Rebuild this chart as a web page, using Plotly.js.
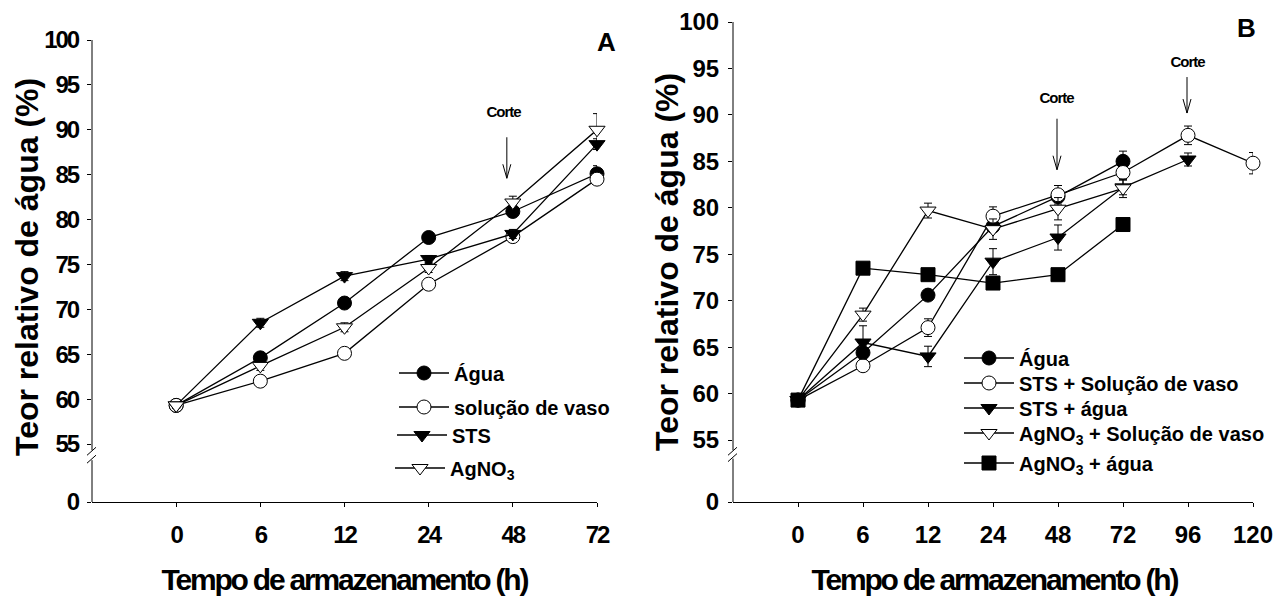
<!DOCTYPE html>
<html>
<head>
<meta charset="utf-8">
<script src="https://cdn.plot.ly/plotly-3.0.1.min.js"></script>
<style>
html,body{margin:0;padding:0;background:#fff;}
#chart{width:1278px;height:598px;}
/* condensed, tightly tracked look of the original */
#chart .xtick text, #chart .ytick text { letter-spacing: -2px; }
#chart .annotation-text[data-unformatted="Corte"] { letter-spacing: -1px; }
#chart .annotation-text[data-unformatted^="Tempo"] { letter-spacing: -2.2px; }
</style>
</head>
<body>
<div id="chart"></div>
<script>
// ---------- data ----------
const hoursA = [0, 6, 12, 24, 48, 72];
const hoursB = [0, 6, 12, 24, 48, 72, 96, 120];
const yTickValsReal = [55, 60, 65, 70, 75, 80, 85, 90, 95, 100];

// Panel A
const aguaA     = [59.3, 64.6, 70.7, 78.0, 80.9, 85.1];
const aguaA_err = [0.3, 0.5, 0.5, 0.4, 0.5, 0.9];
const solA      = [59.3, 62.0, 65.1, 72.8, 78.1, 84.5];
const solA_err  = [0.3, 0.5, 0.5, 0.5, 0.5, 0.5];
const stsA      = [59.3, 68.5, 73.7, 75.6, 78.4, 88.4];
const stsA_err  = [0.3, 0.5, 0.5, 0.4, 0.5, 0.6];
const agA       = [59.3, 63.7, 68.0, 74.6, 81.9, 90.0];
const agA_err   = [0.3, 0.5, 0.5, 0.5, 0.7, 1.8];

// Panel B
const aguaB       = [59.3, 64.4, 70.6, 78.0, 81.2, 85.0];
const aguaB_err   = [0.3, 0.5, 0.5, 0.5, 0.5, 1.1];
const stsSolB     = [59.3, 63.0, 67.1, 79.1, 81.4, 83.8, 87.8, 84.8];
const stsSolB_err = [0.3, 0.5, 0.95, 1.0, 1.0, 0.8, 1.0, 1.15];
const stsAguaB    = [59.3, 65.5, 64.0, 74.2, 76.8, 82.2, 85.2];
const stsAguaB_err= [0.3, 1.8, 1.1, 1.4, 1.35, 0.8, 0.7];
const agSolB      = [59.3, 68.5, 79.7, 77.7, 79.9, 82.1];
const agSolB_err  = [0.3, 0.7, 0.8, 1.1, 1.2, 1.0];
const agAguaB     = [59.3, 73.5, 72.8, 71.9, 72.8, 78.2];
const agAguaB_err = [0.3, 0.4, 0.4, 0.4, 0.4, 0.4];

const namesA = ['Água', 'solução de vaso', 'STS', 'AgNO<sub>3</sub>'];
const namesB = ['Água', 'STS + Solução de vaso', 'STS + água', 'AgNO<sub>3</sub> + Solução de vaso', 'AgNO<sub>3</sub> + água'];

// ---------- layout constants ----------
const W = 1278, H = 598;
const FONT = 'Arial, "Liberation Sans", sans-serif';
const zeroA = 48.54, zeroB = 48.33;   // position of the broken-axis "0" tick

function tr(name, hours, ys, errs, sym, fill, xa, ya, leg) {
  return {
    type: 'scatter', mode: 'lines+markers', name: name,
    x: hours.slice(0, ys.length).map(String), y: ys,
    xaxis: xa, yaxis: ya, legend: leg,
    line: {color: 'black', width: 1.3},
    marker: {symbol: sym, size: 14, color: fill, line: {color: 'black', width: 1}},
    error_y: {type: 'data', array: errs, symmetric: true, color: 'black', thickness: 1, width: 4},
    cliponaxis: false, hoverinfo: 'skip'
  };
}

const data = [
  tr(namesA[0], hoursA, aguaA, aguaA_err, 'circle', 'black', 'x', 'y', 'legend'),
  tr(namesA[1], hoursA, solA, solA_err, 'circle', 'white', 'x', 'y', 'legend2'),
  tr(namesA[2], hoursA, stsA, stsA_err, 'triangle-down', 'black', 'x', 'y', 'legend3'),
  tr(namesA[3], hoursA, agA, agA_err, 'triangle-down', 'white', 'x', 'y', 'legend4'),
  tr(namesB[0], hoursB, aguaB, aguaB_err, 'circle', 'black', 'x2', 'y2', 'legend5'),
  tr(namesB[1], hoursB, stsSolB, stsSolB_err, 'circle', 'white', 'x2', 'y2', 'legend6'),
  tr(namesB[2], hoursB, stsAguaB, stsAguaB_err, 'triangle-down', 'black', 'x2', 'y2', 'legend7'),
  tr(namesB[3], hoursB, agSolB, agSolB_err, 'triangle-down', 'white', 'x2', 'y2', 'legend8'),
  tr(namesB[4], hoursB, agAguaB, agAguaB_err, 'square', 'black', 'x2', 'y2', 'legend9')
];

const tickFont = {family: FONT, size: 24, color: 'black', weight: 'bold'};

function xAxis(cats, dom, anchor) {
  return {
    domain: dom, anchor: anchor, type: 'category',
    categoryorder: 'array', categoryarray: cats.map(String),
    range: [-1, cats.length - 1],
    showline: true, linecolor: 'black', linewidth: 1,
    ticks: 'outside', ticklen: 4, tickcolor: 'black', tickwidth: 1,
    tickfont: tickFont, ticklabelstandoff: 7,
    showgrid: false, zeroline: false, fixedrange: true, automargin: false
  };
}
function yAxis(zero, dom, anchor) {
  return {
    domain: dom, anchor: anchor, range: [zero, 100],
    tickvals: [zero].concat(yTickValsReal),
    ticktext: ['0'].concat(yTickValsReal.map(String)),
    showline: false,
    ticks: 'outside', ticklen: 4, tickcolor: 'black', tickwidth: 1,
    tickfont: tickFont, ticklabelstandoff: 4,
    showgrid: false, zeroline: false, fixedrange: true, automargin: false
  };
}

// broken y-axis line + break marks
function axisBreak(xd, yr, zero, breakTop, breakBot) {
  const ln = {color: 'black', width: 1};
  return [
    {type: 'line', xref: xd, yref: yr, x0: 0, x1: 0, y0: breakTop, y1: 100, line: ln},
    {type: 'line', xref: xd, yref: yr, x0: 0, x1: 0, y0: zero, y1: breakBot, line: ln},
    {type: 'line', xref: xd, yref: yr, xsizemode: 'pixel', xanchor: 0, x0: -5, x1: 4,
     ysizemode: 'pixel', yanchor: breakTop, y0: -5, y1: 3, line: ln},
    {type: 'line', xref: xd, yref: yr, xsizemode: 'pixel', xanchor: 0, x0: -5, x1: 4,
     ysizemode: 'pixel', yanchor: breakBot, y0: -3, y1: 5, line: ln}
  ];
}
// thin open-headed arrows ("Corte")
function arrow(xr, yr, xIdx, dx, tipY, len) {
  return {type: 'path', xref: xr, yref: yr, xsizemode: 'pixel', ysizemode: 'pixel',
    xanchor: xIdx, yanchor: tipY,
    path: `M${dx},0 L${dx},${len} M${dx - 4},14 L${dx},0 L${dx + 4},14`,
    line: {color: 'black', width: 1}};
}

const shapes = []
  .concat(axisBreak('x domain', 'y', zeroA, 54.3, 53.2))
  .concat(axisBreak('x2 domain', 'y2', zeroB, 53.9, 53.0))
  .concat([
    arrow('x', 'y', hoursA.indexOf(48), -6, 84.6, 41),
    arrow('x2', 'y2', hoursB.indexOf(48), -1, 84.1, 51),
    arrow('x2', 'y2', hoursB.indexOf(96), -1, 90.2, 36)
  ]);

const bold = (s) => ({family: FONT, size: s, color: 'black', weight: 'bold'});
function pAnn(text, px, py, font, angle) {
  return {text: text, xref: 'paper', yref: 'paper', x: px / W, y: 1 - py / H,
          xanchor: 'center', yanchor: 'middle', showarrow: false, font: font, textangle: angle || 0};
}
const annotations = [
  {text: 'Corte', xref: 'x', yref: 'y', x: hoursA.indexOf(48), xshift: -9, y: 92.0, showarrow: false, font: bold(15)},
  {text: 'Corte', xref: 'x2', yref: 'y2', x: hoursB.indexOf(48), xshift: -2, y: 91.9, showarrow: false, font: bold(15)},
  {text: 'Corte', xref: 'x2', yref: 'y2', x: hoursB.indexOf(96), xshift: -1, y: 95.7, showarrow: false, font: bold(15)},
  pAnn('A', 606, 42, bold(26)),
  pAnn('B', 1246, 28, bold(26)),
  pAnn('Teor relativo de água (%)', 27, 267, bold(32), -90),
  pAnn('Teor relativo de água (%)', 667, 262, bold(32), -90),
  pAnn('Tempo de armazenamento (h)', 344, 579, bold(30)),
  pAnn('Tempo de armazenamento (h)', 994, 579, bold(30))
];

function leg(markerX, rowY) {
  return {x: (markerX - 29) / W, y: 1 - (rowY - 19.5) / H, xanchor: 'left', yanchor: 'top',
          font: bold(20), bgcolor: 'rgba(0,0,0,0)', borderwidth: 0, itemwidth: 50};
}

const layout = {
  width: W, height: H,
  margin: {l: 0, r: 0, t: 0, b: 0, autoexpand: false},
  paper_bgcolor: 'white', plot_bgcolor: 'white',
  font: {family: FONT, color: 'black'},
  showlegend: true,
  xaxis: xAxis(hoursA, [92 / W, 597 / W], 'y'),
  yaxis: yAxis(zeroA, [1 - 502 / H, 1 - 40 / H], 'x'),
  xaxis2: xAxis(hoursB, [733 / W, 1253 / W], 'y2'),
  yaxis2: yAxis(zeroB, [1 - 502 / H, 1 - 22 / H], 'x2'),
  legend:  leg(423, 373),
  legend2: leg(423, 407),
  legend3: leg(421, 435),
  legend4: leg(419, 468),
  legend5: leg(988, 358),
  legend6: leg(988, 383),
  legend7: leg(988, 408),
  legend8: leg(988, 433),
  legend9: leg(988, 463),
  shapes: shapes,
  annotations: annotations
};

Plotly.newPlot('chart', data, layout, {staticPlot: true, displayModeBar: false});
</script>
</body>
</html>
